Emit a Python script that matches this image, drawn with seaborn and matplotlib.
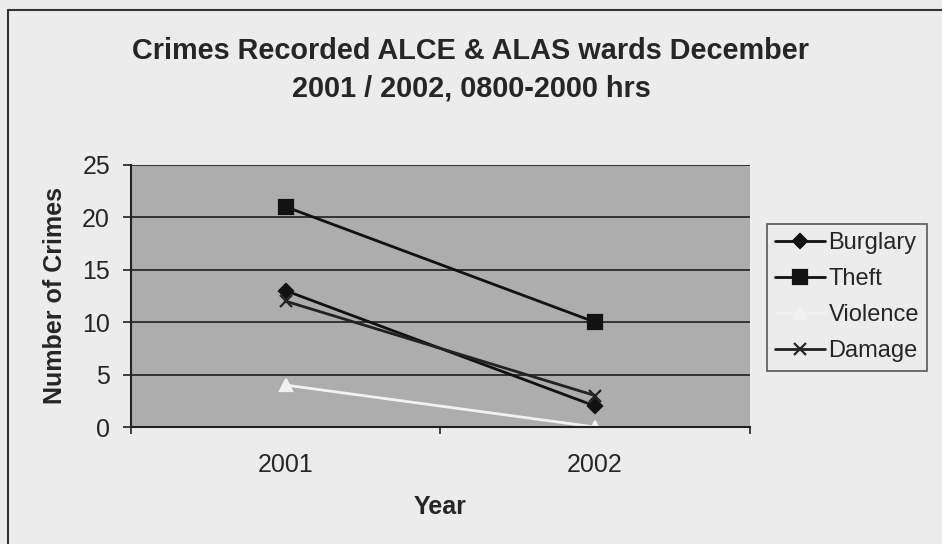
import matplotlib
matplotlib.use("Agg")
import matplotlib.pyplot as plt
import seaborn as sns
import pandas as pd
from matplotlib.patches import Rectangle

years = ["2001", "2002"]
burglary = [13, 2]
theft = [21, 10]
violence = [4, 0]
damage = [12, 3]
series_names = ["Burglary", "Theft", "Violence", "Damage"]
y_ticks = [0, 5, 10, 15, 20, 25]

values = [burglary, theft, violence, damage]
df = pd.DataFrame(
    [(name, i + 0.5, v) for name, vals in zip(series_names, values) for i, v in enumerate(vals)],
    columns=["Crime", "pos", "count"],
)

sns.set_style("white")
plt.rcParams["font.family"] = ["Liberation Sans", "DejaVu Sans"]

fig = plt.figure(figsize=(9.42, 5.44), dpi=100)
fig.patch.set_facecolor("#ececec")
fig.add_artist(Rectangle((0.009, -0.01), 1.0, 0.992, transform=fig.transFigure,
                         fill=False, edgecolor="#333333", linewidth=1.5))

ax = fig.add_axes([0.139, 0.215, 0.657, 0.482])
ax.set_facecolor("#adadad")

colors = {"Burglary": "#111111", "Theft": "#111111", "Violence": "#f2f2f2", "Damage": "#222222"}
markers = {"Burglary": "D", "Theft": "s", "Violence": "^", "Damage": "x"}
msizes = {"Burglary": 7.5, "Theft": 9.5, "Violence": 8.5, "Damage": 8.5}

for name in series_names:
    sub = df[df["Crime"] == name]
    sns.lineplot(data=sub, x="pos", y="count", color=colors[name], marker=markers[name],
                 markersize=msizes[name], linewidth=2.0, markeredgewidth=1.6,
                 markeredgecolor=colors[name], label=name, ax=ax)

ax.set_xlim(0, 2)
ax.set_ylim(0, 25)
ax.set_yticks(y_ticks)
ax.set_xticks([0.5, 1.5])
ax.set_xticklabels(years)
ax.set_xticks([0, 1, 2], minor=True)
ax.tick_params(axis="x", which="minor", length=5, width=1.2, color="#222222", bottom=True)
ax.tick_params(axis="x", which="major", length=0, pad=19, labelsize=18)
ax.tick_params(axis="y", length=6, width=1.2, color="#222222", labelsize=18, pad=9, left=True)
ax.yaxis.grid(True, color="#333333", linewidth=1.4)
ax.xaxis.grid(False)
ax.set_axisbelow(True)

for side in ["top", "right"]:
    ax.spines[side].set_visible(False)
ax.spines["left"].set_color("#222222")
ax.spines["left"].set_linewidth(1.5)
ax.spines["bottom"].set_color("#222222")
ax.spines["bottom"].set_linewidth(1.5)

ax.set_xlabel("Year", fontsize=18, fontweight="bold", labelpad=13)
ax.set_ylabel("Number of Crimes", fontsize=18, fontweight="bold", labelpad=11)

fig.text(0.5, 0.872, "Crimes Recorded ALCE & ALAS wards December\n2001 / 2002, 0800-2000 hrs",
         ha="center", va="center", fontsize=20.8, fontweight="bold", linespacing=1.45)

leg = ax.legend(loc="center left", bbox_to_anchor=(1.028, 0.495), frameon=True,
                fontsize=17, handlelength=2.1, handletextpad=0.15, borderpad=0.35,
                labelspacing=0.6, fancybox=False, borderaxespad=0)
leg.get_frame().set_edgecolor("#333333")
leg.get_frame().set_facecolor("#ececec")
leg.get_frame().set_linewidth(1.2)

fig.savefig("out.png", dpi=100, facecolor=fig.get_facecolor())
